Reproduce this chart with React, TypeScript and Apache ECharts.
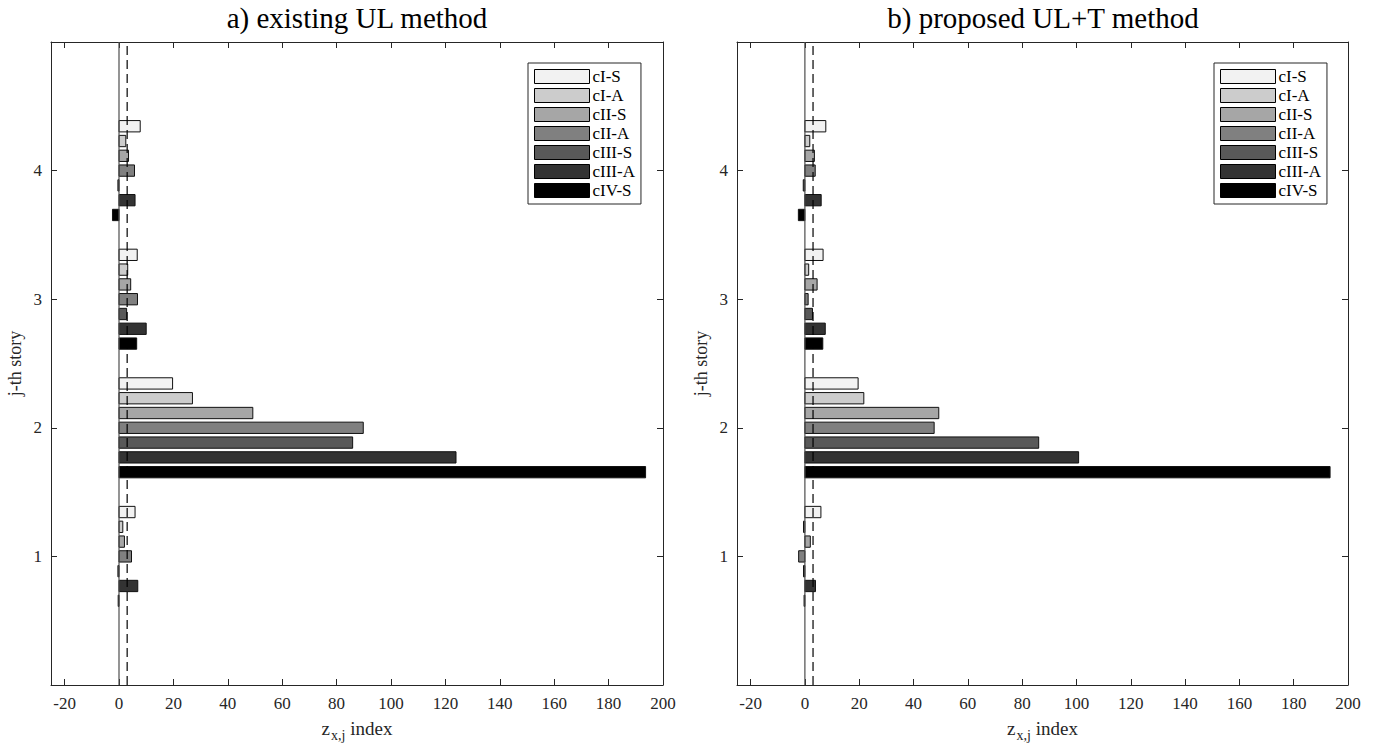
import React, { useEffect, useRef } from 'react';
import * as echarts from 'echarts';

// ---- data ----
const stories = [1, 2, 3, 4];
const seriesNames = ['cI-S', 'cI-A', 'cII-S', 'cII-A', 'cIII-S', 'cIII-A', 'cIV-S'];
const seriesColors = ['#f2f2f2', '#cccccc', '#a6a6a6', '#808080', '#595959', '#333333', '#000000'];
const xTicks = [-20, 0, 20, 40, 60, 80, 100, 120, 140, 160, 180, 200];
const yTickLabels = ['', '1', '2', '3', '4', ''];
const titleA = 'a) existing UL method';
const titleB = 'b) proposed UL+T method';

// panel a) values per story (1..4)
const aCIS = [5.9, 19.7, 6.7, 7.8];
const aCIA = [1.4, 27.0, 3.2, 2.5];
const aCIIS = [2.0, 49.2, 4.3, 3.5];
const aCIIA = [4.6, 89.8, 6.8, 5.7];
const aCIIIS = [-0.4, 85.9, 2.8, -0.4];
const aCIIIA = [6.9, 123.9, 10.0, 5.9];
const aCIVS = [-0.3, 193.6, 6.5, -2.4];

// panel b) values per story (1..4)
const bCIS = [5.9, 19.6, 6.7, 7.7];
const bCIA = [-0.5, 21.7, 1.4, 1.8];
const bCIIS = [2.0, 49.3, 4.5, 3.5];
const bCIIA = [-2.3, 47.6, 1.2, 3.8];
const bCIIIS = [-0.5, 86.1, 2.8, -0.6];
const bCIIIA = [3.9, 100.8, 7.5, 6.0];
const bCIVS = [-0.3, 193.4, 6.6, -2.4];

const zeroLine = 0;
const thresholdLine = 3;

const panelA = [aCIS, aCIA, aCIIS, aCIIA, aCIIIS, aCIIIA, aCIVS];
const panelB = [bCIS, bCIA, bCIIS, bCIIA, bCIIIS, bCIIIA, bCIVS];

const FONT = '"Liberation Serif", "Times New Roman", serif';
const AXIS_COLOR = '#262626';
const GROUP_STEP = 0.115;
const BAR_H = 0.088;

function App() {
  const ref = useRef<HTMLDivElement>(null);

  useEffect(() => {
    if (!ref.current) return;
    const chart = echarts.init(ref.current, null, { renderer: 'svg' });

    const grids = [
      { left: 51, top: 42, width: 612, height: 643 },
      { left: 737, top: 42, width: 611, height: 643 },
    ];

    const xAxes: any[] = [];
    const yAxes: any[] = [];
    grids.forEach((_, gi) => {
      const common = {
        type: 'value',
        gridIndex: gi,
        min: -25,
        max: 200,
        splitLine: { show: false },
        axisLine: { show: true, onZero: false, lineStyle: { color: AXIS_COLOR, width: 1 } },
        axisTick: { show: true, inside: true, length: 6, customValues: xTicks, lineStyle: { color: AXIS_COLOR } },
      };
      xAxes.push({
        ...common,
        position: 'bottom',
        axisLabel: { show: true, customValues: xTicks, color: AXIS_COLOR, fontFamily: FONT, fontSize: 17, margin: 10 },
        name: '{m|z}{s|x,j}{m| index}',
        nameLocation: 'middle',
        nameGap: 34,
        nameTextStyle: {
          color: AXIS_COLOR,
          fontFamily: FONT,
          rich: {
            m: { fontFamily: FONT, fontSize: 19, color: AXIS_COLOR, lineHeight: 20, verticalAlign: 'top' },
            s: { fontFamily: FONT, fontSize: 14, color: AXIS_COLOR, lineHeight: 20, padding: [9, 0, 0, 1], verticalAlign: 'top' },
          },
        },
      });
      xAxes.push({
        ...common,
        position: 'top',
        axisLabel: { show: false },
      });
      const ycommon = {
        type: 'value',
        gridIndex: gi,
        min: 0,
        max: 5,
        interval: 1,
        splitLine: { show: false },
        axisLine: { show: true, onZero: false, lineStyle: { color: AXIS_COLOR, width: 1 } },
        axisTick: { show: true, inside: true, length: 6, lineStyle: { color: AXIS_COLOR } },
      };
      yAxes.push({
        ...ycommon,
        position: 'left',
        axisLabel: {
          show: true,
          color: AXIS_COLOR,
          fontFamily: FONT,
          fontSize: 17,
          margin: 9,
          formatter: (v: number) => yTickLabels[Math.round(v)] ?? '',
        },
        name: 'j-th story',
        nameLocation: 'middle',
        nameGap: 27,
        nameTextStyle: { color: AXIS_COLOR, fontFamily: FONT, fontSize: 18 },
      });
      yAxes.push({
        ...ycommon,
        position: 'right',
        axisLabel: { show: false },
      });
    });

    const series: any[] = [];
    [panelA, panelB].forEach((panel, pi) => {
      panel.forEach((vals, si) => {
        const color = seriesColors[si];
        series.push({
          type: 'custom',
          name: seriesNames[si],
          xAxisIndex: pi * 2,
          yAxisIndex: pi * 2,
          itemStyle: { color, borderColor: '#000', borderWidth: 1 },
          encode: { x: 0, y: 1 },
          data: stories.map((s, k) => [vals[k], s + (3 - si) * GROUP_STEP]),
          z: 2,
          renderItem: (params: any, api: any) => {
            const v = api.value(0);
            const y = api.value(1);
            const p0 = api.coord([0, y]);
            const p1 = api.coord([v, y]);
            const h = Math.abs(api.size([0, BAR_H])[1]);
            return {
              type: 'rect',
              shape: {
                x: Math.min(p0[0], p1[0]),
                y: p0[1] - h / 2,
                width: Math.abs(p1[0] - p0[0]),
                height: h,
              },
              style: { fill: color, stroke: '#111', lineWidth: 1 },
            };
          },
        });
      });
      series.push({
        type: 'line',
        name: 'zero',
        xAxisIndex: pi * 2,
        yAxisIndex: pi * 2,
        data: [[zeroLine, 0], [zeroLine, 5]],
        symbol: 'none',
        silent: true,
        z: 5,
        lineStyle: { color: '#4d4d4d', width: 1.2 },
      });
      series.push({
        type: 'line',
        name: 'threshold',
        xAxisIndex: pi * 2,
        yAxisIndex: pi * 2,
        data: [[thresholdLine, 0], [thresholdLine, 5]],
        symbol: 'none',
        silent: true,
        z: 5,
        lineStyle: { color: '#000', width: 1.2, type: [9, 5] },
      });
    });

    const legendData = seriesNames.map((n, i) => ({
      name: n,
      itemStyle: { color: seriesColors[i], borderColor: '#000', borderWidth: 1 },
    }));
    const legendCommon = {
      orient: 'vertical',
      icon: 'rect',
      itemWidth: 55,
      itemHeight: 14,
      itemGap: 2,
      padding: [5, 6, 5, 6],
      borderColor: '#262626',
      borderWidth: 1,
      backgroundColor: '#fff',
      selectedMode: false,
      textStyle: { color: '#000', fontFamily: FONT, fontSize: 17, lineHeight: 14, padding: [0, 0, 0, -2] },
      data: legendData,
      z: 10,
    };

    chart.setOption({
      animation: false,
      backgroundColor: '#fff',
      grid: grids,
      xAxis: xAxes,
      yAxis: yAxes,
      series,
      legend: [
        { ...legendCommon, left: 528, top: 63, width: 113 },
        { ...legendCommon, left: 1214, top: 63, width: 113 },
      ],
      graphic: [
        {
          type: 'text',
          x: 357,
          y: 18,
          style: { text: titleA, font: `29px ${FONT}`, fill: '#000', align: 'center', verticalAlign: 'middle' },
        },
        {
          type: 'text',
          x: 1043,
          y: 18,
          style: { text: titleB, font: `29px ${FONT}`, fill: '#000', align: 'center', verticalAlign: 'middle' },
        },
      ],
    });

    return () => chart.dispose();
  }, []);

  return (
    <div
      ref={ref}
      style={{ position: 'absolute', left: 0, top: 0, width: 1373, height: 749, background: '#fff' }}
    />
  );
}

export default App;
